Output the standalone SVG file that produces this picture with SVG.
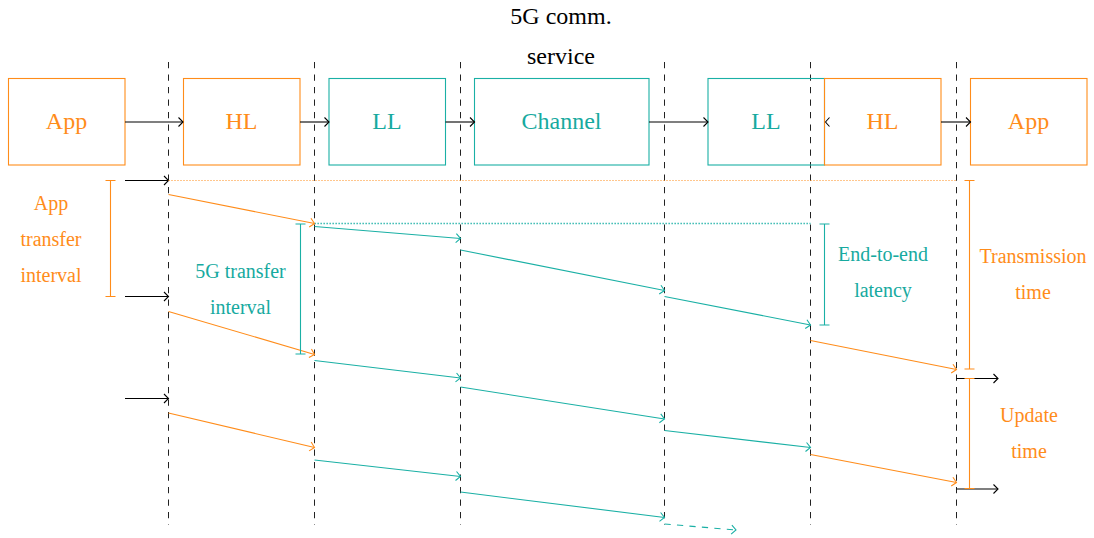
<svg xmlns="http://www.w3.org/2000/svg" width="1094" height="538" viewBox="0 0 1094 538">
<style>
text{font-family:"Liberation Serif","Times New Roman",serif;text-anchor:middle}
.big{font-size:24px}
.sm{font-size:20px}
.blk{fill:#000}
.or{fill:#FF8C1A}
.tl{fill:#17AA9F}
.boxo{fill:none;stroke:#FF8C1A;stroke-width:1.1}
.boxt{fill:none;stroke:#1AB0A5;stroke-width:1.1}
.vd{stroke:#222;stroke-width:1;stroke-dasharray:6.25 6.25;fill:none}
.ak{stroke:#000;stroke-width:1.1;fill:none;marker-end:url(#mk)}
.ao{stroke:#FF8C1A;stroke-width:1.1;fill:none;marker-end:url(#mo)}
.at{stroke:#1AB0A5;stroke-width:1.1;fill:none;marker-end:url(#mt)}
.dot-o{stroke:#FF8C1A;stroke-width:1;stroke-dasharray:1 2;fill:none}
.dot-t{stroke:#1AB0A5;stroke-width:1.3;stroke-dasharray:1.3 1.7;fill:none}
.bo{stroke:#FF8C1A;stroke-width:1.1;fill:none}
.bt{stroke:#1AB0A5;stroke-width:1.1;fill:none}
</style>
<defs>
<marker id="mk" markerUnits="userSpaceOnUse" markerWidth="12" markerHeight="12" viewBox="-6 -6 12 12" refX="0" refY="0" orient="auto"><path d="M-4.5,-4.5 Q-1.2,-1.2 0,0 Q-1.2,1.2 -4.5,4.5" fill="none" stroke="#000" stroke-width="1.1"/></marker>
<marker id="mo" markerUnits="userSpaceOnUse" markerWidth="12" markerHeight="12" viewBox="-6 -6 12 12" refX="0" refY="0" orient="auto"><path d="M-4.5,-4.5 Q-1.2,-1.2 0,0 Q-1.2,1.2 -4.5,4.5" fill="none" stroke="#FF8C1A" stroke-width="1.1"/></marker>
<marker id="mt" markerUnits="userSpaceOnUse" markerWidth="12" markerHeight="12" viewBox="-6 -6 12 12" refX="0" refY="0" orient="auto"><path d="M-4.5,-4.5 Q-1.2,-1.2 0,0 Q-1.2,1.2 -4.5,4.5" fill="none" stroke="#1AB0A5" stroke-width="1.1"/></marker>
</defs>
<rect width="1094" height="538" fill="#fff"/>

<g id="title">
<text class="big blk" x="561" y="24">5G comm.</text>
<text class="big blk" x="561" y="64">service</text>
</g>

<g id="lanes">
<line class="vd" x1="168.5" y1="62" x2="168.5" y2="525"/>
<line class="vd" x1="314.5" y1="62" x2="314.5" y2="525"/>
<line class="vd" x1="460.5" y1="62" x2="460.5" y2="525"/>
<line class="vd" x1="664.5" y1="62" x2="664.5" y2="525"/>
<line class="vd" x1="810.5" y1="62" x2="810.5" y2="525"/>
<line class="vd" x1="956.5" y1="62" x2="956.5" y2="525"/>
</g>

<g id="node-app1"><rect class="boxo" x="8.5" y="78.5" width="116.5" height="86.5"/><text class="big or" x="66.5" y="129">App</text></g>
<g id="node-hl1"><rect class="boxo" x="183.5" y="78.5" width="116.5" height="86.5"/><text class="big or" x="241.5" y="129">HL</text></g>
<g id="node-ll1"><rect class="boxt" x="329" y="78.5" width="116.5" height="86.5"/><text class="big tl" x="387" y="129">LL</text></g>
<g id="node-channel"><rect class="boxt" x="474.5" y="78.5" width="174.5" height="86.5"/><text class="big tl" x="561.5" y="129">Channel</text></g>
<g id="node-ll2"><rect class="boxt" x="708" y="78.5" width="116.5" height="86.5"/><text class="big tl" x="766" y="129">LL</text></g>
<g id="node-hl2"><rect class="boxo" x="824.5" y="78.5" width="116.5" height="86.5"/><text class="big or" x="882.5" y="129">HL</text></g>
<g id="node-app2"><rect class="boxo" x="970.5" y="78.5" width="116.5" height="86.5"/><text class="big or" x="1028.5" y="129">App</text></g>

<g id="connectors">
<line class="ak" x1="125" y1="122" x2="183" y2="122"/>
<line class="ak" x1="300" y1="122" x2="329" y2="122"/>
<line class="ak" x1="445.5" y1="122" x2="474.5" y2="122"/>
<line class="ak" x1="649" y1="122" x2="708" y2="122"/>
<path d="M829.5,117.5 Q826.5,120.8 825.5,122 Q826.5,123.2 829.5,126.5" fill="none" stroke="#000" stroke-width="1.1"/>
<line class="ak" x1="941" y1="122" x2="970.5" y2="122"/>

<line class="ak" x1="125" y1="180.5" x2="168.5" y2="180.5"/>
<line class="ak" x1="125" y1="296.5" x2="168.5" y2="296.5"/>
<line class="ak" x1="125" y1="398.5" x2="168.5" y2="398.5"/>
<line class="ak" x1="956.5" y1="378.5" x2="998" y2="378.5"/>
<line class="ak" x1="956.5" y1="489" x2="998" y2="489"/>

<line class="dot-o" x1="168.5" y1="180.5" x2="956.5" y2="180.5"/>
<line class="dot-t" x1="314.5" y1="223.5" x2="810.5" y2="223.5"/>

<line class="ao" x1="168.5" y1="194.5" x2="314.5" y2="223.5"/>
<line class="ao" x1="168.5" y1="311.5" x2="314.5" y2="354.5"/>
<line class="ao" x1="168.5" y1="413" x2="314.5" y2="447.5"/>
<line class="ao" x1="810.5" y1="340.5" x2="956.5" y2="369.5"/>
<line class="ao" x1="810.5" y1="454.5" x2="956.5" y2="482.5"/>

<line class="at" x1="314.5" y1="226.5" x2="460.5" y2="238.5"/>
<line class="at" x1="460.5" y1="250" x2="664.5" y2="290.5"/>
<line class="at" x1="664.5" y1="296.5" x2="810.5" y2="325"/>
<line class="at" x1="314.5" y1="360.5" x2="460.5" y2="378"/>
<line class="at" x1="460.5" y1="387" x2="664.5" y2="419"/>
<line class="at" x1="664.5" y1="430.5" x2="810.5" y2="447.5"/>
<line class="at" x1="314.5" y1="460" x2="460.5" y2="476.5"/>
<line class="at" x1="460.5" y1="492" x2="664.5" y2="517.5"/>
<line class="at" x1="664.5" y1="524" x2="736" y2="530" stroke-dasharray="6.25 6.25"/>
</g>

<g id="brackets">
<path class="bo" d="M110.5,180.5 V296.5 M105.5,180.5 H115.5 M105.5,296.5 H115.5"/>
<path class="bt" d="M300.5,224 V354 M295.5,224 H305.5 M295.5,354 H305.5"/>
<path class="bt" d="M824.5,224 V325 M819.5,224 H829.5 M819.5,325 H829.5"/>
<path class="bo" d="M969.5,180.5 V369 M964.5,180.5 H974.5 M964.5,369 H974.5"/>
<path class="bo" d="M969.5,378.5 V488.5 M964.5,378.5 H974.5 M964.5,488.5 H974.5"/>
</g>

<g id="labels">
<text class="sm or" x="51" y="209.5">App</text>
<text class="sm or" x="51" y="245.5">transfer</text>
<text class="sm or" x="51" y="281.5">interval</text>
<text class="sm tl" x="240.5" y="278">5G transfer</text>
<text class="sm tl" x="240.5" y="314">interval</text>
<text class="sm tl" x="883" y="260.5">End-to-end</text>
<text class="sm tl" x="883" y="297">latency</text>
<text class="sm or" x="1033" y="262.5">Transmission</text>
<text class="sm or" x="1033" y="299">time</text>
<text class="sm or" x="1029" y="421.5">Update</text>
<text class="sm or" x="1029" y="458">time</text>
</g>
</svg>
